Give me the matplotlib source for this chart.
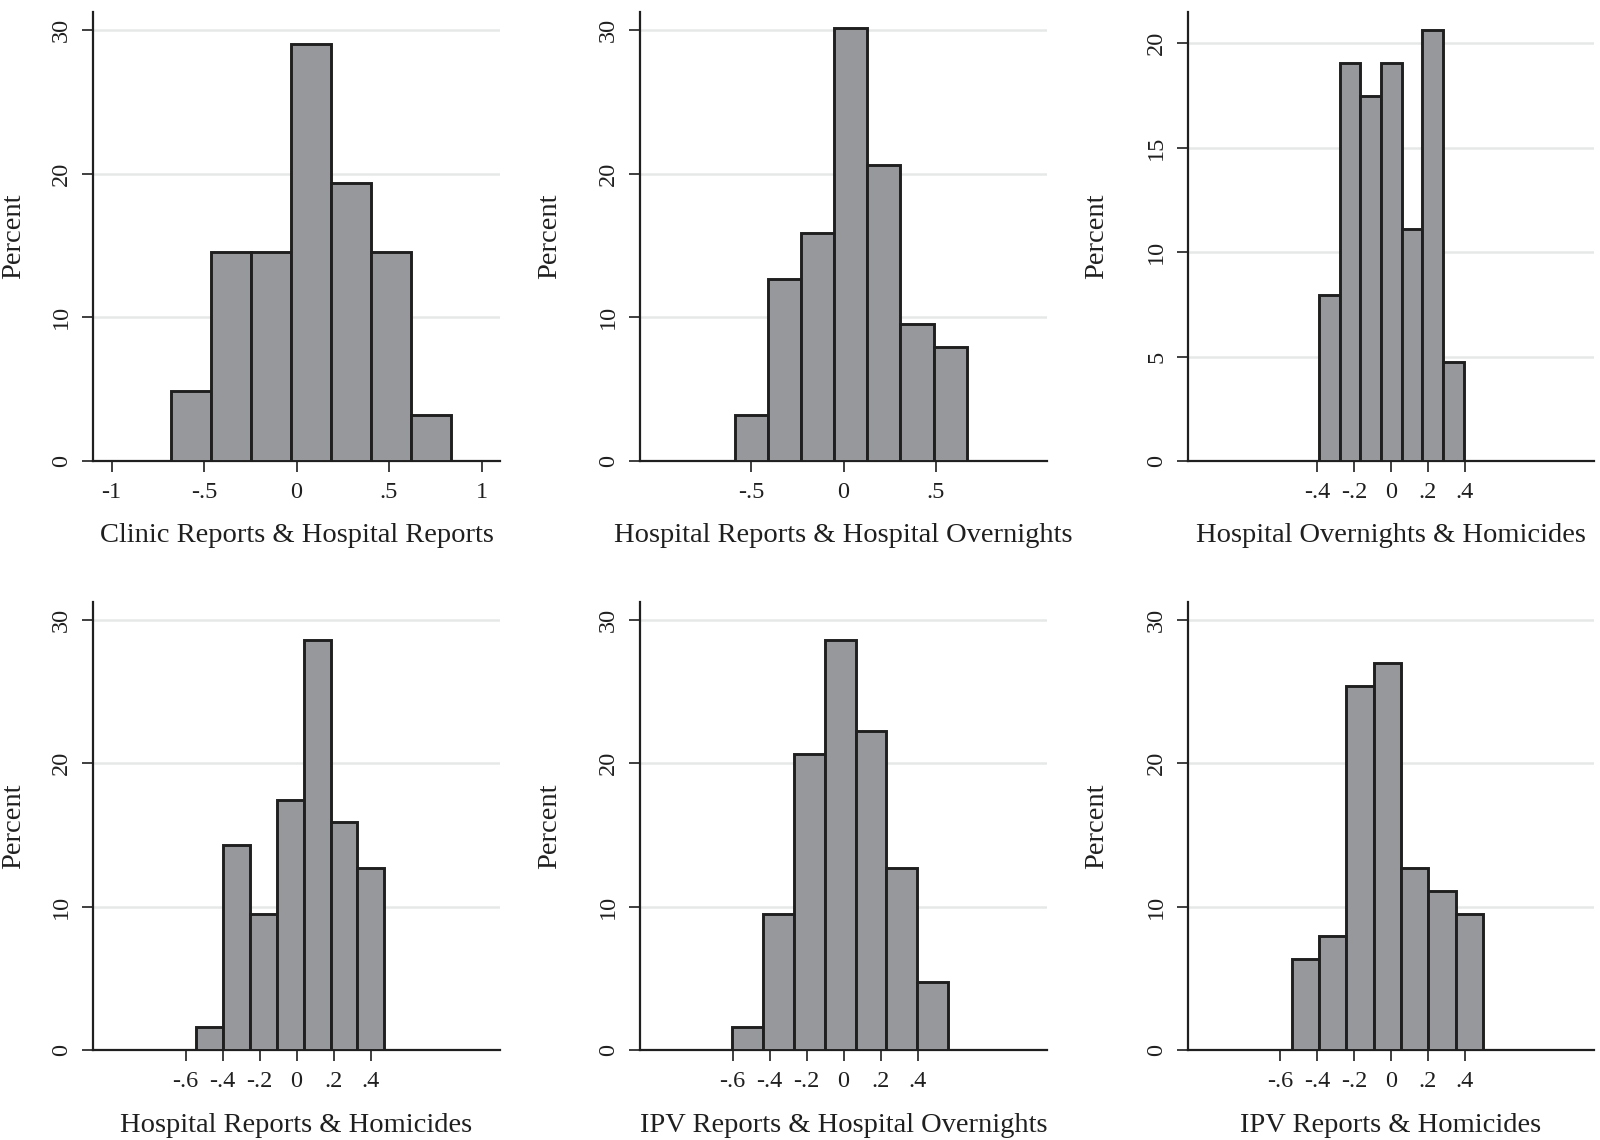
import matplotlib
matplotlib.use('Agg')
import matplotlib.pyplot as plt

plt.rcParams['font.family'] = ['Liberation Serif', 'DejaVu Serif']

# ---- data ----
titles = ['Clinic Reports & Hospital Reports',
          'Hospital Reports & Hospital Overnights',
          'Hospital Overnights & Homicides',
          'Hospital Reports & Homicides',
          'IPV Reports & Hospital Overnights',
          'IPV Reports & Homicides']

bin_start = [-0.679, -0.587, -0.391, -0.541, -0.603, -0.538]
bin_width = [0.216, 0.179, 0.112, 0.145, 0.167, 0.148]

pct_clinic_hosp = [4.84, 14.52, 14.52, 29.03, 19.35, 14.52, 3.23]
pct_hosp_overn = [3.17, 12.70, 15.87, 30.16, 20.63, 9.52, 7.94]
pct_overn_homic = [7.94, 19.05, 17.46, 19.05, 11.11, 20.63, 4.76]
pct_hosp_homic = [1.59, 14.29, 9.52, 17.46, 28.57, 15.87, 12.70]
pct_ipv_overn = [1.59, 9.52, 20.63, 28.57, 22.22, 12.70, 4.76]
pct_ipv_homic = [6.35, 7.94, 25.40, 26.98, 12.70, 11.11, 9.52]

percents = [pct_clinic_hosp, pct_hosp_overn, pct_overn_homic,
            pct_hosp_homic, pct_ipv_overn, pct_ipv_homic]

xticks = [[-1, -0.5, 0, 0.5, 1],
          [-0.5, 0, 0.5],
          [-0.4, -0.2, 0, 0.2, 0.4],
          [-0.6, -0.4, -0.2, 0, 0.2, 0.4],
          [-0.6, -0.4, -0.2, 0, 0.2, 0.4],
          [-0.6, -0.4, -0.2, 0, 0.2, 0.4]]
yticks = [[0, 10, 20, 30], [0, 10, 20, 30], [0, 5, 10, 15, 20],
          [0, 10, 20, 30], [0, 10, 20, 30], [0, 10, 20, 30]]


def stata_fmt(v):
    # Stata style: no leading zero, plain hyphen
    if v == 0:
        return '0'
    if float(v).is_integer():
        return '%d' % v
    s = ('%g' % abs(v)).lstrip('0')
    return ('-' if v < 0 else '') + s


W, H = 1600, 1140
fig = plt.figure(figsize=(W / 100, H / 100), dpi=100)
fig.patch.set_facecolor('white')

# axes boxes in pixels: left, right / top, bottom
col_lr = [(93, 500), (640, 1047), (1188, 1594)]
row_tb = [(12, 461), (602, 1050)]
ylab_off = [79, 90, 91]
xlab_off = [74, 75]

for k in range(6):
    r, c = divmod(k, 3)
    l, rr = col_lr[c]
    t, b = row_tb[r]
    ax = fig.add_axes([l / W, 1 - b / H, (rr - l) / W, (b - t) / H])

    vals = percents[k]
    lefts = [bin_start[k] + i * bin_width[k] for i in range(len(vals))]
    ax.bar(lefts, vals, width=bin_width[k], align='edge',
           color='#97989b', edgecolor='#1f1f1f', linewidth=2.1, zorder=3)

    ax.set_xlim(-1.1, 1.1)
    top = 21.5 if k == 2 else 31.25
    ax.set_ylim(0, top)
    ax.set_xticks(xticks[k])
    ax.set_xticklabels([stata_fmt(v) for v in xticks[k]])
    ax.set_yticks(yticks[k])
    ax.set_yticklabels([stata_fmt(v) for v in yticks[k]])

    ax.yaxis.grid(True, color='#e6e8e8', linewidth=1.8, zorder=0)
    ax.set_axisbelow(True)

    for s in ['top', 'right']:
        ax.spines[s].set_visible(False)
    for s in ['left', 'bottom']:
        ax.spines[s].set_color('#1f1f1f')
        ax.spines[s].set_linewidth(1.6)

    ax.tick_params(axis='both', direction='out', length=8, width=1.2,
                   color='#1f1f1f', labelsize=17.5, labelcolor='#1f1f1f')
    ax.tick_params(axis='x', pad=7)
    ax.tick_params(axis='y', pad=7, labelrotation=90)
    for lab in ax.get_yticklabels():
        lab.set_va('center')

    ax.set_ylabel('Percent', fontsize=20.5, color='#1f1f1f')
    ax.yaxis.label.set_va('center')
    ax.yaxis.set_label_coords(-ylab_off[c] / (rr - l), 0.5)
    ax.set_xlabel(titles[k], fontsize=20.5, color='#1f1f1f')
    ax.xaxis.label.set_va('center')
    ax.xaxis.set_label_coords(0.5, -xlab_off[r] / (b - t))

fig.savefig('out.png', dpi=100, facecolor='white')
